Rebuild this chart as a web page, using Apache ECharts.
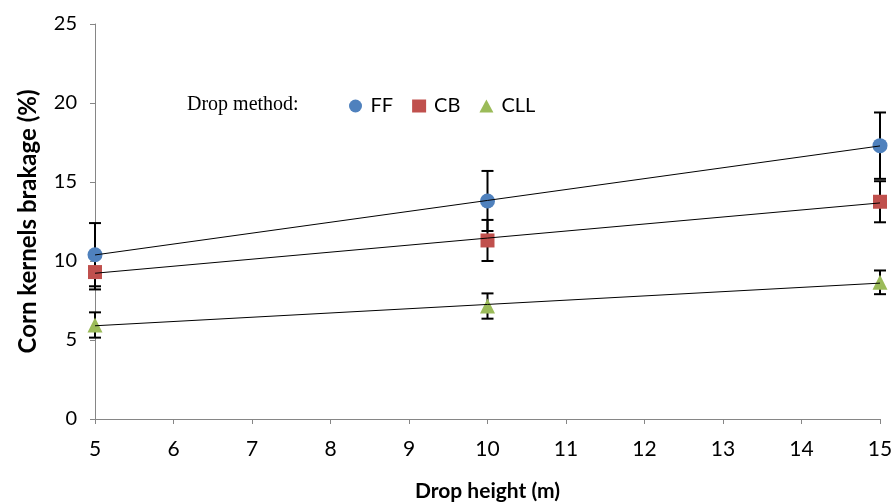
<!DOCTYPE html>
<html>
<head>
<meta charset="utf-8">
<script src="https://cdn.jsdelivr.net/npm/echarts@6/dist/echarts.min.js"></script>
<style>
  html, body { margin: 0; padding: 0; background: #fff; }
  #chart { width: 895px; height: 502px; }
</style>
</head>
<body>
<div id="chart"></div>
<script>
// drop heights (m)
const heights = [5, 10, 15];
// breakage (%) per drop method, with +/- error
const ffValues = [10.4, 13.8, 17.3];
const ffErr = [2.0, 1.9, 2.1];
const cbValues = [9.3, 11.3, 13.75];
const cbErr = [1.1, 1.3, 1.3];
const cllValues = [5.95, 7.15, 8.65];
const cllErr = [0.8, 0.8, 0.75];

const names = ['FF', 'CB', 'CLL'];
const colors = ['#4F81BD', '#C0504D', '#9BBB59'];
const symbols = ['circle', 'rect', 'triangle'];
const sizes = [15, 14, 15];
const values = [ffValues, cbValues, cllValues];
const errs = [ffErr, cbErr, cllErr];

const tickFont = 'Lato, "Open Sans", sans-serif';

// least squares fit for the trend line
function fit (xs, ys) {
  let n = xs.length
  let mx = xs.reduce((a, b) => a + b, 0) / n
  let my = ys.reduce((a, b) => a + b, 0) / n
  let num = 0
  let den = 0
  xs.forEach((x, i) => {
    num += (x - mx) * (ys[i] - my)
    den += (x - mx) * (x - mx)
  })
  let b = num / den
  return { a: my - b * mx, b: b }
}

let series = []
values.forEach((vals, k) => {
  // error bars
  series.push({
    type: 'custom',
    silent: true,
    z: 2,
    data: heights.map((h, i) => [h, vals[i] - errs[k][i], vals[i] + errs[k][i]]),
    renderItem: function (params, api) {
      let lo = api.coord([api.value(0), api.value(1)])
      let hi = api.coord([api.value(0), api.value(2)])
      let w = 6
      let style = { stroke: '#000', lineWidth: 2 }
      return {
        type: 'group',
        children: [
          { type: 'line', shape: { x1: lo[0], y1: lo[1], x2: hi[0], y2: hi[1] }, style: style },
          { type: 'line', shape: { x1: lo[0] - w, y1: lo[1], x2: lo[0] + w, y2: lo[1] }, style: style },
          { type: 'line', shape: { x1: hi[0] - w, y1: hi[1], x2: hi[0] + w, y2: hi[1] }, style: style }
        ]
      }
    }
  })
  // markers
  series.push({
    name: names[k],
    type: 'scatter',
    z: 3,
    symbol: symbols[k],
    symbolSize: sizes[k],
    itemStyle: { color: colors[k], opacity: 1 },
    data: heights.map((h, i) => [h, vals[i]])
  })
  // linear trend line
  let f = fit(heights, vals)
  let x0 = heights[0]
  let x1 = heights[heights.length - 1]
  series.push({
    type: 'line',
    silent: true,
    z: 4,
    symbol: 'none',
    lineStyle: { color: '#000', width: 1 },
    data: [[x0, f.a + f.b * x0], [x1, f.a + f.b * x1]]
  })
})

let myChart = echarts.init(document.getElementById('chart'))
let option = {
  animation: false,
  backgroundColor: '#fff',
  grid: { left: 95, right: 15, top: 24, bottom: 83, containLabel: false, outerBoundsMode: 'none' },
  graphic: [{
    type: 'text',
    left: 187,
    top: 95,
    style: { text: 'Drop method:', font: '20px "Liberation Serif", "DejaVu Serif", serif', fill: '#000' }
  }],
  legend: {
    left: 344,
    top: 91,
    itemGap: 19,
    itemWidth: 14,
    itemHeight: 13,
    data: names.map((n, k) => ({ name: n, icon: symbols[k], itemStyle: { opacity: 1 } })),
    textStyle: { fontFamily: tickFont, fontSize: 20, color: '#000', padding: [0, 0, 0, 3] }
  },
  xAxis: {
    type: 'value',
    min: 5,
    max: 15,
    interval: 1,
    name: 'Drop height (m)',
    nameLocation: 'middle',
    nameGap: 62,
    nameTextStyle: { fontFamily: tickFont, fontSize: 21, fontWeight: 'bold', color: '#000' },
    axisLine: { show: true, lineStyle: { color: '#868686', width: 1 } },
    axisTick: { show: true, length: 5, lineStyle: { color: '#868686' } },
    axisLabel: { fontFamily: tickFont, fontSize: 21, color: '#000', margin: 20 },
    splitLine: { show: false }
  },
  yAxis: {
    type: 'value',
    min: 0,
    max: 25,
    interval: 5,
    name: 'Corn kernels brakage (%)',
    nameLocation: 'middle',
    nameGap: 55,
    nameTextStyle: { fontFamily: tickFont, fontSize: 24, fontWeight: 'bold', color: '#000' },
    axisLine: { show: true, lineStyle: { color: '#868686', width: 1 } },
    axisTick: { show: true, length: 5, lineStyle: { color: '#868686' } },
    axisLabel: { fontFamily: tickFont, fontSize: 20, color: '#000', margin: 18 },
    splitLine: { show: false }
  },
  series: series
}
myChart.setOption(option, true)
</script>
</body>
</html>
